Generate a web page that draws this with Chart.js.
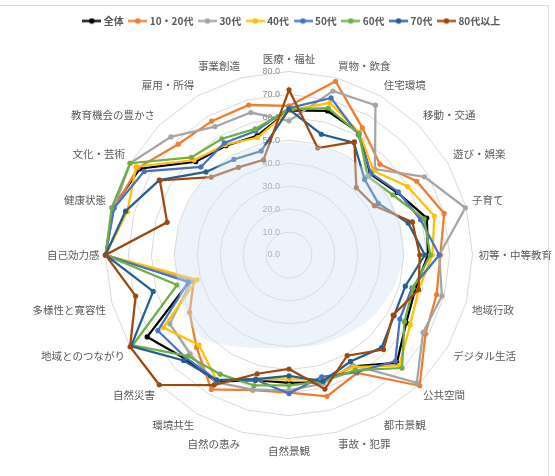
<!DOCTYPE html>
<html lang="ja">
<head>
<meta charset="utf-8">
<title>年代別 地域の幸福度</title>
<script src="https://cdn.jsdelivr.net/npm/chart.js@4.4.1/dist/chart.umd.min.js"></script>
<style>
  html, body { margin: 0; padding: 0; background: #fff; }
  #wrap { position: relative; width: 555px; height: 476px; overflow: hidden; }
  #frame { position: absolute; left: -2px; top: 5px; width: 549px; height: 480px;
           border: 1px solid #d9d9d9; pointer-events: none; }
  canvas { position: absolute; left: 0; top: 0; }
</style>
</head>
<body>
<div id="wrap">
  <canvas id="radarChart" width="555" height="476"></canvas>
  <div id="frame"></div>
</div>
<script>
const categories = [
  "医療・福祉", "買物・飲食", "住宅環境", "移動・交通", "遊び・娯楽", "子育て",
  "初等・中等教育", "地域行政", "デジタル生活", "公共空間", "都市景観", "事故・犯罪",
  "自然景観", "自然の恵み", "環境共生", "自然災害", "地域とのつながり", "多様性と寛容性",
  "自己効力感", "健康状態", "文化・芸術", "教育機会の豊かさ", "雇用・所得", "事業創造"
];

const seriesNames = ["全体", "10・20代", "30代", "40代", "50代", "60代", "70代", "80代以上"];
const seriesColors = ["#000000", "#ED7D31", "#A5A5A5", "#FFC000", "#4472C4", "#70AD47", "#255E91", "#9E480E"];

const zentai  = [63, 65, 61.5, 50, 54.5, 62.2, 60.6, 57, 59, 66.5, 56, 57.5, 55.7, 56.5, 63.7, 64, 71.4, 45, 80, 79.5, 75.2, 57.5, 55, 53.8];
const age1020 = [65, 78.4, 64, 56, 64.3, 70, 66, 66.6, 68.7, 80.6, 59.4, 63.8, 60, 61, 67.7, 57, 50, 43, 80, 79, 76, 68.3, 67.4, 67.7];
const age30   = [58.5, 74, 75.4, 53, 68.2, 79.6, 65.5, 69, 67.5, 78.8, 55.3, 58, 59, 60.8, 64, 61, 60, 44, 80, 79, 80, 72.8, 64.6, 64.3];
const age40   = [63, 68.7, 61.5, 52, 59.7, 65.6, 62.5, 58.5, 61, 68, 56.5, 56, 54.2, 56, 63, 55.5, 63.3, 41.5, 80, 73, 77, 58.5, 55.5, 53];
const age50   = [64, 70.9, 60.5, 50.5, 55, 59.4, 65.5, 55.5, 55.8, 65.5, 59, 55, 60.4, 56.3, 63, 63.5, 66, 45.5, 80, 79, 72.9, 54.3, 56.4, 56];
const age60   = [63.5, 66.3, 61, 48.5, 52.3, 61, 61.6, 56, 58.1, 69.7, 58, 57, 56.8, 58.9, 60, 62.3, 78.7, 50.5, 80, 80, 80, 60.2, 58.5, 56.9];
const age70   = [63.5, 54.5, 56.6, 46.6, 45, 53.8, 59.2, 52.5, 52.9, 57.1, 53.6, 57, 52.7, 56, 63, 65, 79.5, 61.3, 80, 73.8, 65.3, 51.2, 48.1, 46.9];
const age80   = [72, 48.3, 57, 41.5, 43, 55.7, 57, 58.5, 52.4, 58.3, 50.7, 60.5, 49.7, 53.6, 65.5, 80, 80, 69.2, 80, 55, 65, 48, 44.1, 42.9];

// pale shaded zone laid over the middle of the web
const band = [49, 49, 49.5, 50, 50.5, 50.5, 50, 48, 46, 44, 42, 41, 40.5, 42, 46, 52, 52, 50, 50, 49.5, 49.5, 49.5, 49.5, 49];

const tickValues = [0, 10, 20, 30, 40, 50, 60, 70, 80];

const seriesData = [zentai, age1020, age30, age40, age50, age60, age70, age80];

// small line-with-dot swatch for the legend
function legendMarker(color) {
  const c = document.createElement("canvas");
  c.width = 19; c.height = 7;
  const g = c.getContext("2d");
  g.strokeStyle = color;
  g.lineWidth = 2.25;
  g.beginPath(); g.moveTo(0, 3.5); g.lineTo(19, 3.5); g.stroke();
  g.fillStyle = color;
  g.beginPath(); g.arc(9.5, 3.5, 2.8, 0, Math.PI * 2); g.fill();
  return c;
}
const markers = seriesColors.map(legendMarker);

const datasets = seriesNames.map((name, i) => ({
  label: name,
  data: seriesData[i],
  borderColor: seriesColors[i],
  backgroundColor: seriesColors[i],
  borderWidth: 2.25,
  pointRadius: 2.6,
  pointBorderWidth: 0,
  pointBackgroundColor: seriesColors[i],
  fill: false,
  order: 10 - i
}));

datasets.push({
  data: band,
  borderWidth: 0,
  pointRadius: 0,
  backgroundColor: "rgba(212,226,244,0.42)",
  fill: true,
  tension: 0.35,
  order: -1
});

// value labels sit just left of the vertical axis, under the lines
const tickLabels = {
  id: "tickLabels",
  beforeDatasetsDraw(chart) {
    const r = chart.scales.r;
    const ctx = chart.ctx;
    ctx.save();
    ctx.font = '9px "Liberation Sans", Arial, sans-serif';
    ctx.fillStyle = "#8c8c8c";
    ctx.textAlign = "right";
    ctx.textBaseline = "middle";
    tickValues.forEach(v => {
      const y = r.yCenter - r.getDistanceFromCenterForValue(v);
      ctx.fillText(v.toFixed(1), r.xCenter - 9, y);
    });
    ctx.restore();
  }
};

new Chart(document.getElementById("radarChart"), {
  type: "radar",
  data: { labels: categories, datasets: datasets },
  plugins: [tickLabels],
  options: {
    responsive: false,
    animation: false,
    devicePixelRatio: 1,
    layout: { padding: { top: 9, left: 30, right: 0, bottom: 0 } },
    plugins: {
      tooltip: { enabled: false },
      legend: {
        position: "top",
        labels: {
          usePointStyle: true,
          pointStyleWidth: 14,
          padding: 7,
          color: "#595959",
          font: { family: '"Noto Sans CJK JP", sans-serif', size: 10, weight: "bold" },
          generateLabels: chart => chart.data.datasets
            .map((ds, i) => ({
              text: ds.label,
              fillStyle: ds.borderColor,
              strokeStyle: ds.borderColor,
              lineWidth: 0,
              pointStyle: markers[i],
              fontColor: "#595959",
              hidden: false,
              datasetIndex: i
            }))
            .filter(item => item.text)
        }
      }
    },
    scales: {
      r: {
        min: 0,
        max: 80,
        ticks: { stepSize: 10, display: false },
        grid: { color: "#d9d9d9", lineWidth: 1, circular: false },
        angleLines: { display: false },
        pointLabels: {
          color: "#595959",
          padding: 6,
          font: { family: '"Noto Sans CJK JP", sans-serif', size: 10.5 }
        }
      }
    }
  }
});
</script>
</body>
</html>
